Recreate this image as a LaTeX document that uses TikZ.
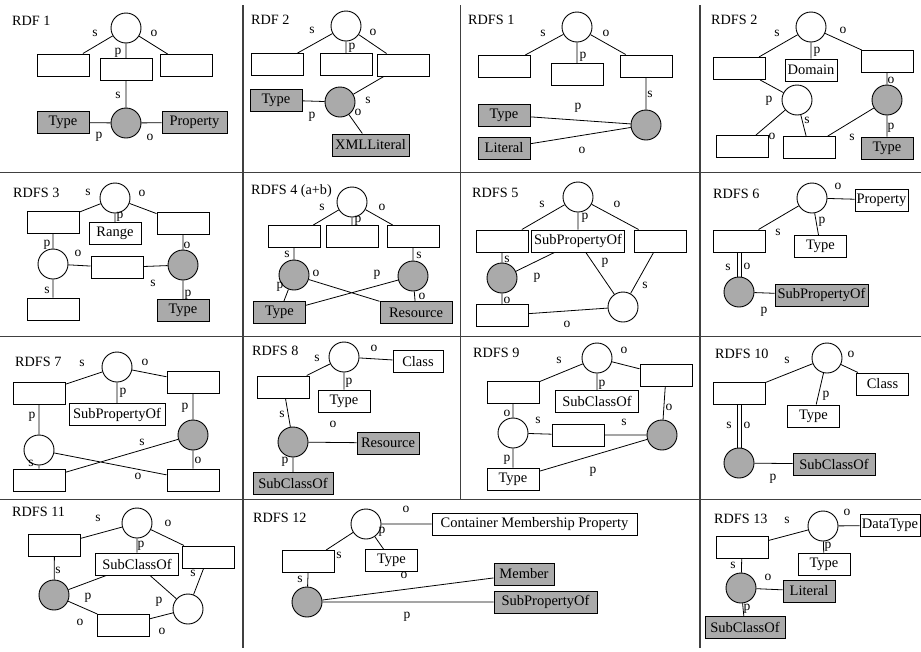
\documentclass[tikz,border=0pt]{standalone}
\usepackage{fontspec}
\setmainfont{Liberation Serif}
\definecolor{gfill}{RGB}{170,170,170}
\tikzset{
  wc/.style={circle, draw=black, fill=white, line width=0.9pt, minimum size=30pt, inner sep=0pt},
  gc/.style={wc, fill=gfill},
  bx/.style={rectangle, draw=black, fill=white, line width=1pt, minimum width=52pt, minimum height=22pt, inner sep=1pt, font=\fontsize{14.5}{16}\selectfont},
  gb/.style={bx, fill=gfill},
  lab/.style={inner sep=0pt, font=\fontsize{13.5}{15}\selectfont},
  ttl/.style={anchor=west, inner sep=0pt, font=\fontsize{14.2}{16}\selectfont},
  ed/.style={line width=0.8pt},
  gridline/.style={line width=1.1pt, draw=black!75}
}
\newcommand\lb[3]{\node[lab] (#1) at (#2) {#3};}
\begin{document}
\begin{tikzpicture}[x=1pt,y=-1pt]
\useasboundingbox (0,0) rectangle (921,651);
\fill[white] (0,0) rectangle (921,651);
% grid
\draw[gridline] (0,172.5) -- (921,172.5) (0,336.5) -- (921,336.5) (0,499.5) -- (921,499.5);
\draw[gridline] (243,5) -- (243,648) (460.5,5) -- (460.5,499.5) (700,5) -- (700,648);

% ---------- RDF 1
\node[ttl] (at) at (12,21) {RDF 1};
\node[wc] (ac) at (126,28) {};
\node[bx] (ab1) at (63.5,65) {};
\node[bx] (ab2) at (126,69.5) {};
\node[bx] (ab3) at (186,65.5) {};
\node[gc] (ag) at (126,123) {};
\node[gb] (aT) at (63,122.5) {Type};
\node[gb, minimum width=65pt] (aP) at (194.5,122.5) {Property};
\draw[ed] (ac)--(ab1) (ac)--(ab2) (ac)--(ab3) (ab2)--(ag) (aT)--(ag) (ag)--(aP);
\lb{al1}{95,33}{s}\lb{al2}{154,33}{o}\lb{al3}{118,53}{p}\lb{al4}{118,95}{s}\lb{al5}{99,137}{p}\lb{al6}{150,137}{o}

% ---------- RDF 2
\node[ttl] (bt) at (251,20) {RDF 2};
\node[wc] (bc) at (346,26) {};
\node[bx] (bb1) at (277,64.5) {};
\node[bx] (bb2) at (346,64.5) {};
\node[bx] (bb3) at (403.5,65) {};
\node[gb] (bT) at (276,100) {Type};
\node[gc] (bg) at (340,102) {};
\node[gb, minimum width=77pt] (bX) at (370.5,145) {XMLLiteral};
\draw[ed] (bc)--(bb1) (bc)--(bb2) (bc)--(bb3) (bb3)--(bg) (bT)--(bg) (bg)--(bX);
\lb{bl1}{312,30}{s}\lb{bl2}{373,32}{o}\lb{bl3}{352,48}{p}\lb{bl4}{368,100}{s}\lb{bl5}{312,117}{p}\lb{bl6}{358,112}{o}

% ---------- RDFS 1
\node[ttl] (ct) at (468,20) {RDFS 1};
\node[wc] (cc) at (577,27) {};
\node[bx] (cb1) at (504,66.5) {};
\node[bx] (cb2) at (577,74.5) {};
\node[bx] (cb3) at (646,66) {};
\node[gc] (cg) at (646,125) {};
\node[gb] (cT) at (504,115) {Type};
\node[gb] (cL) at (504,148) {Literal};
\draw[ed] (cc)--(cb1) (cc)--(cb2) (cc)--(cb3) (cb3)--(cg) (cT)--(cg) (cL)--(cg);
\lb{cl1}{543,33}{s}\lb{cl2}{606,33}{o}\lb{cl3}{583,57}{p}\lb{cl4}{650,94}{s}\lb{cl5}{578,108}{p}\lb{cl6}{582,150}{o}

% ---------- RDFS 2
\node[ttl] (dt) at (711,20) {RDFS 2};
\node[wc] (dc) at (811,27) {};
\node[bx] (db1) at (739,68.5) {};
\node[bx] (dD) at (811,70) {Domain};
\node[bx] (db3) at (887,61.5) {};
\node[wc] (dw) at (797,100) {};
\node[gc] (dg) at (887,100) {};
\node[bx] (db4) at (742.5,146.5) {};
\node[bx] (db5) at (809,147.5) {};
\node[gb] (dT) at (887,148) {Type};
\draw[ed] (dc)--(db1) (dc)--(dD) (dc)--(db3) (db1)--(dw) (db3)--(dg) (dw)--(db4) (dw)--(db5) (dg)--(db5) (dg)--(dT);
\lb{dl1}{777,33}{s}\lb{dl2}{843,30}{o}\lb{dl3}{817,52}{p}\lb{dl4}{769,101}{p}\lb{dl5}{891,80}{o}\lb{dl6}{772,136}{o}\lb{dl7}{807,120}{s}\lb{dl8}{852,137}{s}\lb{dl9}{891,128}{p}

% ---------- RDFS 3
\node[ttl] (et) at (13,193) {RDFS 3};
\node[wc] (ec) at (115,198) {};
\node[bx] (eb1) at (53,222.5) {};
\node[bx] (eR) at (115,233.5) {Range};
\node[bx] (eb3) at (183,223.5) {};
\node[wc] (ew) at (53,264) {};
\node[bx] (em) at (117,267.5) {};
\node[gc] (eg) at (183,265) {};
\node[bx] (eb6) at (53,309) {};
\node[gb] (eT) at (183,310.5) {Type};
\draw[ed] (ec)--(eb1) (ec)--(eR) (ec)--(eb3) (eb1)--(ew) (ew)--(em) (em)--(eg) (eb3)--(eg) (ew)--(eb6) (eg)--(eT);
\lb{el1}{88,192}{s}\lb{el2}{142,193}{o}\lb{el3}{120,217}{p}\lb{el4}{47,245}{p}\lb{el5}{78,253}{o}\lb{el6}{187,245}{o}\lb{el7}{153,283}{s}\lb{el8}{47,290}{s}\lb{el9}{188,295}{p}

% ---------- RDFS 4
\node[ttl] (ft) at (251,191) {RDFS 4 (a+b)};
\node[wc] (fc) at (352,202) {};
\node[bx] (fb1) at (294,236.5) {};
\node[bx] (fb2) at (352,236.5) {};
\node[bx] (fb3) at (413,236.5) {};
\node[gc] (fg1) at (294,275) {};
\node[gc] (fg2) at (413,276) {};
\node[gb] (fT) at (279.5,312.5) {Type};
\node[gb, minimum width=72pt] (fR) at (416,312.5) {Resource};
\draw[ed] (fc)--(fb1) (fc)--(fb2) (fc)--(fb3) (fb1)--(fg1) (fb3)--(fg2) (fg1)--(fT) (fg1)--(fR) (fg2)--(fT) (fg2)--(fR);
\lb{fl1}{322,207}{s}\lb{fl2}{382,207}{o}\lb{fl3}{358,221}{p}\lb{fl4}{287,254}{s}\lb{fl5}{419,255}{s}\lb{fl6}{280,287}{p}\lb{fl7}{316,273}{o}\lb{fl8}{377,275}{p}\lb{fl9}{422,296}{o}

% ---------- RDFS 5
\node[ttl] (gt) at (472,193) {RDFS 5};
\node[wc] (gc) at (578,197) {};
\node[bx] (gb1) at (502,241) {};
\node[bx, minimum width=93pt] (gS) at (578,241) {SubPropertyOf};
\node[bx] (gb3) at (660,241) {};
\node[gc] (gg) at (502,278) {};
\node[wc] (gw) at (623,307) {};
\node[bx] (gb4) at (502,315.5) {};
\draw[ed] (gc)--(gb1) (gc)--(gS) (gc)--(gb3) (gb1)--(gg) (gS)--(gg) (gS)--(gw) (gb3)--(gw) (gg)--(gb4) (gb4)--(gw);
\lb{gl1}{542,204}{s}\lb{gl2}{617,204}{o}\lb{gl3}{585,218}{p}\lb{gl4}{507,259}{s}\lb{gl5}{537,278}{p}\lb{gl6}{605,263}{p}\lb{gl7}{645,285}{s}\lb{gl8}{507,300}{o}\lb{gl9}{567,324}{o}

% ---------- RDFS 6
\node[ttl] (ht) at (713,194) {RDFS 6};
\node[wc] (hc) at (812,198) {};
\node[bx, minimum width=53pt] (hP) at (881.5,200) {Property};
\node[bx] (hb1) at (739,241) {};
\node[bx] (hT) at (820.5,246.5) {Type};
\node[gc] (hg) at (739,292) {};
\node[gb, minimum width=93pt] (hS) at (821.5,295) {SubPropertyOf};
\draw[ed] (hc)--(hP) (hc)--(hb1) (hc)--(hT) (hg)--(hS);
\draw[ed] ([xshift=-2pt]hb1.south) -- ([xshift=-2pt]hg.north) ([xshift=2pt]hb1.south) -- ([xshift=2pt]hg.north);
\lb{hl1}{838,186}{o}\lb{hl2}{778,232}{s}\lb{hl3}{822,222}{p}\lb{hl4}{728,267}{s}\lb{hl5}{747,266}{o}\lb{hl6}{764,312}{p}

% ---------- RDFS 7
\node[ttl] (it) at (15,362) {RDFS 7};
\node[wc] (ic) at (117,367) {};
\node[bx] (ib1) at (39,393) {};
\node[bx, minimum width=96pt] (iS) at (117,414.5) {SubPropertyOf};
\node[bx] (ib3) at (193,382) {};
\node[wc] (iw) at (39,450) {};
\node[gc] (ig) at (193,435) {};
\node[bx] (ib4) at (39,480) {};
\node[bx] (ib5) at (193,480) {};
\draw[ed] (ic)--(ib1) (ic)--(iS) (ic)--(ib3) (ib1)--(iw) (ib3)--(ig) (iw)--(ib4) (ig)--(ib5) (iw)--(ib5) (ig)--(ib4);
\lb{il1}{82,363}{s}\lb{il2}{145,362}{o}\lb{il3}{123,393}{p}\lb{il4}{32,417}{p}\lb{il5}{185,408}{p}\lb{il6}{31,463}{s}\lb{il7}{198,460}{o}\lb{il8}{138,476}{o}\lb{il9}{142,442}{s}

% ---------- RDFS 8
\node[ttl] (jt) at (252,351) {RDFS 8};
\node[wc] (jc) at (344,357) {};
\node[bx, minimum width=50pt] (jC) at (418,361.5) {Class};
\node[bx] (jb1) at (283.5,387) {};
\node[bx] (jT) at (344,401) {Type};
\node[gc] (jg) at (293,442) {};
\node[gb, minimum width=62pt] (jR) at (388,443) {Resource};
\node[gb, minimum width=80pt] (jS) at (293,483.5) {SubClassOf};
\draw[ed] (jc)--(jC) (jc)--(jb1) (jc)--(jT) (jb1)--(jg) (jg)--(jR) (jg)--(jS);
\lb{jl1}{317,358}{s}\lb{jl2}{374,348}{o}\lb{jl3}{349,383}{p}\lb{jl4}{282,414}{s}\lb{jl5}{333,424}{o}\lb{jl6}{285,462}{p}

% ---------- RDFS 9
\node[ttl] (kt) at (473,353) {RDFS 9};
\node[wc] (kc) at (597,358) {};
\node[bx] (kb1) at (513,392.5) {};
\node[bx, minimum width=83pt] (kS) at (597,401.5) {SubClassOf};
\node[bx] (kb3) at (666,375.5) {};
\node[wc] (kw) at (513,433) {};
\node[bx] (km) at (578,435) {};
\node[gc] (kg) at (662,435) {};
\node[bx] (kT) at (513,479) {Type};
\draw[ed] (kc)--(kb1) (kc)--(kS) (kc)--(kb3) (kb1)--(kw) (kw)--(km) (km)--(kg) (kb3)--(kg) (kw)--(kT) (kT)--(kg);
\lb{kl1}{559,360}{s}\lb{kl2}{624,350}{o}\lb{kl3}{602,385}{p}\lb{kl4}{507,413}{o}\lb{kl5}{538,420}{s}\lb{kl6}{624,422}{s}\lb{kl7}{669,407}{o}\lb{kl8}{507,460}{p}\lb{kl9}{593,472}{p}

% ---------- RDFS 10
\node[ttl] (lt) at (715,354) {RDFS 10};
\node[wc] (lc) at (827,358) {};
\node[bx] (lb1) at (739,393) {};
\node[bx] (lC) at (882.5,384) {Class};
\node[bx] (lT) at (813.5,416) {Type};
\node[gc] (lg) at (739,463) {};
\node[gb, minimum width=82pt] (lS) at (834,464) {SubClassOf};
\draw[ed] (lc)--(lb1) (lc)--(lC) (lc)--(lT) (lg)--(lS);
\draw[ed] ([xshift=-2pt]lb1.south) -- ([xshift=-2pt]lg.north) ([xshift=2pt]lb1.south) -- ([xshift=2pt]lg.north);
\lb{ll1}{787,360}{s}\lb{ll2}{851,354}{o}\lb{ll3}{826,396}{p}\lb{ll4}{729,425}{s}\lb{ll5}{747,425}{o}\lb{ll6}{773,479}{p}

% ---------- RDFS 11
\node[ttl] (mt) at (12,512) {RDFS 11};
\node[wc] (mc) at (137,523) {};
\node[bx] (mb1) at (54.5,545.5) {};
\node[bx, minimum width=83pt] (mS) at (137,564) {SubClassOf};
\node[bx] (mb3) at (208,557) {};
\node[gc] (mg) at (54,595) {};
\node[wc] (mw) at (188,609) {};
\node[bx] (mb4) at (123.5,625.5) {};
\draw[ed] (mc)--(mb1) (mc)--(mS) (mc)--(mb3) (mb1)--(mg) (mS)--(mg) (mS)--(mw) (mb3)--(mw) (mg)--(mb4) (mb4)--(mw);
\lb{ml1}{98,518}{s}\lb{ml2}{168,523}{o}\lb{ml3}{141,546}{p}\lb{ml4}{58,570}{s}\lb{ml5}{159,602}{p}\lb{ml6}{193,573}{s}\lb{ml7}{88,598}{p}\lb{ml8}{80,622}{o}\lb{ml9}{162,631}{o}

% ---------- RDFS 12
\node[ttl] (nt) at (253,518) {RDFS 12};
\node[wc] (nc) at (366,524) {};
\node[bx, minimum width=205pt] (nM) at (534.5,524) {Container Membership Property};
\node[bx] (nT) at (391.5,560.5) {Type};
\node[bx] (nb1) at (308.5,561.5) {};
\node[gc] (ng) at (307,602) {};
\node[gb, minimum width=60pt] (nMe) at (524,574) {Member};
\node[gb, minimum width=103pt] (nS) at (545.5,602) {SubPropertyOf};
\draw[ed] (nc)--(nM) (nc)--(nT) (nc)--(nb1) (nb1)--(ng) (ng)--(nMe) (ng)--(nS);
\lb{nl1}{406,509}{o}\lb{nl2}{382,532}{p}\lb{nl3}{339,555}{s}\lb{nl4}{404,575}{o}\lb{nl5}{300,579}{s}\lb{nl6}{407,617}{p}

% ---------- RDFS 13
\node[ttl] (ot) at (714,519) {RDFS 13};
\node[wc] (oc) at (823,526) {};
\node[bx, minimum width=60pt] (oD) at (890,525.5) {DataType};
\node[bx] (ob1) at (742,547.5) {};
\node[bx] (oT) at (824,564) {Type};
\node[gc] (og) at (741,588) {};
\node[gb] (oL) at (809,591) {Literal};
\node[gb, minimum width=80pt] (oS) at (745,627.5) {SubClassOf};
\draw[ed] (oc)--(oD) (oc)--(ob1) (oc)--(oT) (ob1)--(og) (og)--(oL) (og)--(oS);
\lb{ol1}{787,520}{s}\lb{ol2}{847,512}{o}\lb{ol3}{828,547}{p}\lb{ol4}{733,565}{s}\lb{ol5}{768,577}{o}\lb{ol6}{747,609}{p}
\end{tikzpicture}
\end{document}
